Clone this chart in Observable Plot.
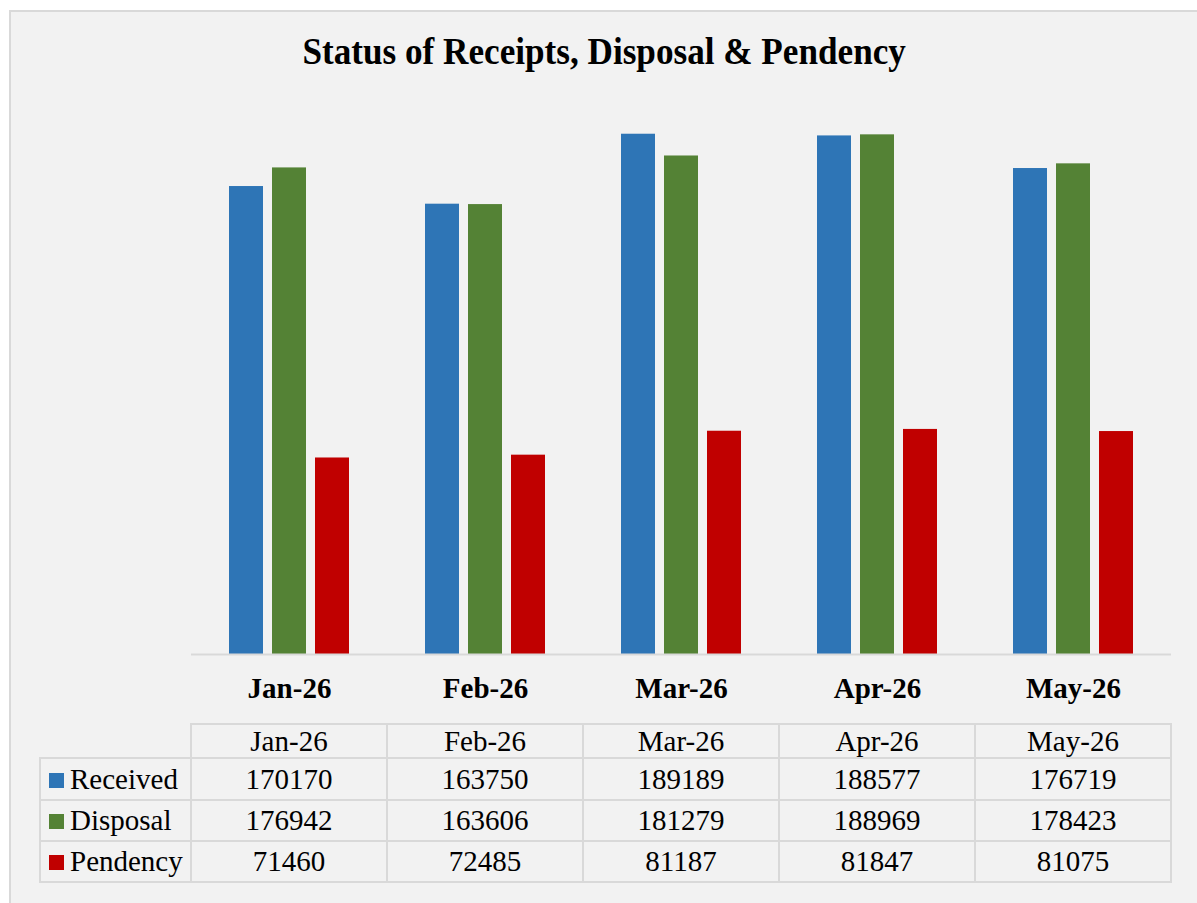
<!DOCTYPE html>
<html>
<head>
<meta charset="utf-8">
<script src="https://cdn.jsdelivr.net/npm/d3@7"></script>
<script src="https://cdn.jsdelivr.net/npm/@observablehq/plot@0.6"></script>
<style>
  html, body { margin: 0; padding: 0; background: #ffffff; width: 1197px; height: 903px; overflow: hidden; }
  #frame { position: absolute; left: 9px; top: 10px; width: 1200px; height: 900px; background: #f2f2f2; border: 2px solid #d9d9d9; box-sizing: border-box; }
  #title { position: absolute; left: 0; top: 32px; width: 1208px; text-align: center; font-family: "Liberation Serif", serif; font-weight: bold; font-size: 38px; line-height: 38px; color: #000; }
  #title span { display: inline-block; transform: scaleX(0.925); transform-origin: center; white-space: nowrap; }
  #chart { position: absolute; left: 0; top: 80px; }
  #tbl { position: absolute; left: 39px; top: 723px; border-collapse: collapse; table-layout: fixed; font-family: "Liberation Serif", serif; font-size: 29px; color: #000; }
  #tbl td { border: 2px solid #d9d9d9; padding: 0; text-align: center; vertical-align: middle; line-height: 1; white-space: nowrap; box-sizing: border-box; }
  #tbl td.corner { border-top: none; border-left: none; }
  #tbl td.leg { text-align: left; padding-left: 8px; }
  .sw { display: inline-block; width: 15px; height: 15px; margin-right: 6px; vertical-align: 1px; }
</style>
</head>
<body>
<div id="frame"></div>
<div id="title"><span>Status of Receipts, Disposal &amp; Pendency</span></div>
<div id="chart"></div>
<table id="tbl"></table>
<script>
const months = ["Jan-26", "Feb-26", "Mar-26", "Apr-26", "May-26"];
const series = ["Received", "Disposal", "Pendency"];
const received = [170170, 163750, 189189, 188577, 176719];
const disposal = [176942, 163606, 181279, 188969, 178423];
const pendency = [71460, 72485, 81187, 81847, 81075];
const colors = ["#2E75B6", "#548235", "#C00000"];

const valuesBySeries = [received, disposal, pendency];
const data = [];
months.forEach((m, i) => {
  series.forEach((s, j) => data.push({ month: m, series: s, value: valuesBySeries[j][i] }));
});

const serif = "Liberation Serif, serif";

const chart = Plot.plot({
  width: 1197,
  height: 640,
  marginLeft: 190,
  marginRight: 26,
  marginTop: 24,
  marginBottom: 66,
  style: { background: "transparent", fontFamily: serif },
  fx: { domain: months, padding: 0, label: null },
  x: { domain: series, paddingInner: 0.21, paddingOuter: 0.88, axis: null },
  y: { domain: [0, 200000], axis: null },
  color: { domain: series, range: colors },
  marks: [
    Plot.barY(data, { fx: "month", x: "series", y: "value", fill: "series" }),
    Plot.ruleY([0], { stroke: "#d9d9d9", strokeWidth: 2 }),
    Plot.axisFx({ anchor: "bottom", tickSize: 0, tickPadding: 23, fontSize: 29, fontWeight: "bold", fill: "#000", label: null, fontFamily: serif })
  ]
});
document.getElementById("chart").appendChild(chart);

// data table
const tbl = document.getElementById("tbl");
const colWidths = [151, 196, 196, 196, 196, 196];
const rowHeights = [34, 42, 41, 41];
const colgroup = document.createElement("colgroup");
colWidths.forEach(w => {
  const col = document.createElement("col");
  col.style.width = w + "px";
  colgroup.appendChild(col);
});
tbl.appendChild(colgroup);
tbl.style.width = colWidths.reduce((a, b) => a + b, 0) + "px";
let tr = document.createElement("tr");
tr.style.height = rowHeights[0] + "px";
let td = document.createElement("td");
td.className = "corner";
tr.appendChild(td);
months.forEach((m, i) => {
  const c = document.createElement("td");
  c.textContent = m;
  tr.appendChild(c);
});
tbl.appendChild(tr);
series.forEach((s, j) => {
  const r = document.createElement("tr");
  r.style.height = rowHeights[j + 1] + "px";
  const l = document.createElement("td");
  l.className = "leg";
  const sw = document.createElement("span");
  sw.className = "sw";
  sw.style.background = colors[j];
  l.appendChild(sw);
  l.appendChild(document.createTextNode(s));
  r.appendChild(l);
  valuesBySeries[j].forEach(v => {
    const c = document.createElement("td");
    c.textContent = String(v);
    r.appendChild(c);
  });
  tbl.appendChild(r);
});
</script>
</body>
</html>
